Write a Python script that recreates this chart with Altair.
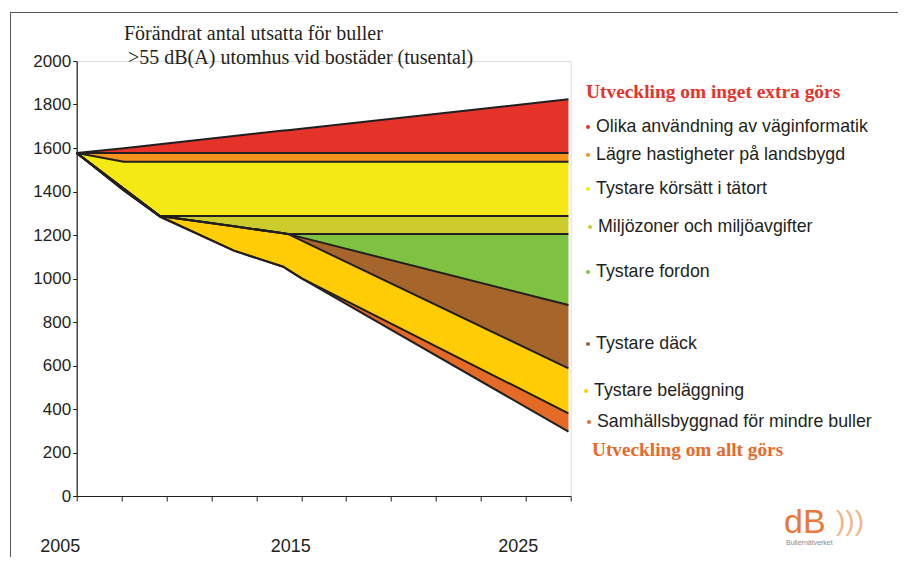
import altair as alt
import pandas as pd

# ---------------- data ----------------
years = [2005.0, 2007.1, 2008.7, 2012.0, 2014.2, 2014.4, 2015.0, 2026.9]

# boundaries between bands (thousands of people), top to bottom
top_none   = [1577, 1599, 1617, 1655, 1680, 1682, 1689, 1824]
b_vaginfo  = [1577, 1577, 1577, 1577, 1577, 1577, 1577, 1577]
b_hast     = [1577, 1537, 1537, 1537, 1537, 1537, 1537, 1537]
b_korsatt  = [1577, 1412, 1287, 1287, 1287, 1287, 1287, 1287]
b_miljo    = [1577, 1412, 1287, 1240, 1208, 1205, 1205, 1205]
b_fordon   = [1577, 1412, 1287, 1240, 1208, 1205, 1189, 878]
b_dack     = [1577, 1412, 1287, 1240, 1208, 1205, 1175, 587]
b_belagg   = [1577, 1405, 1285, 1128, 1054, 1041, 1002, 380]
bottom_all = [1577, 1405, 1285, 1128, 1054, 1041, 1002, 296]

categories = [
    "Olika användning av väginformatik",
    "Lägre hastigheter på landsbygd",
    "Tystare körsätt i tätort",
    "Miljözoner och miljöavgifter",
    "Tystare fordon",
    "Tystare däck",
    "Tystare beläggning",
    "Samhällsbyggnad för mindre buller",
]
colors = ["#E63329", "#F7941D", "#F4E914", "#CCCC2C",
          "#7FC241", "#A6652B", "#FFCC05", "#E56A27"]

boundaries = [top_none, b_vaginfo, b_hast, b_korsatt, b_miljo,
              b_fordon, b_dack, b_belagg, bottom_all]

title_lines = ["Förändrat antal utsatta för buller",
               ">55 dB(A) utomhus vid bostäder (tusental)"]
top_label = "Utveckling om inget extra görs"
bottom_label = "Utveckling om allt görs"
y_ticks = list(range(0, 2001, 200))
x_ticks = list(range(2005, 2028))

# ---------------- tables ----------------
band_rows = []
for i, name in enumerate(categories):
    up, lo = boundaries[i], boundaries[i + 1]
    for yr, u, l in zip(years, up, lo):
        band_rows.append({"band": name, "year": yr, "upper": u, "lower": l})
df_bands = pd.DataFrame(band_rows)

line_rows = []
for j, b in enumerate(boundaries):
    for yr, v in zip(years, b):
        line_rows.append({"line": f"b{j}", "year": yr, "value": v})
df_lines = pd.DataFrame(line_rows)

one = pd.DataFrame({"k": [0]})

# ---------------- layout helpers (pixel positions) ----------------
X0, Y0 = 76.7, 61.0  # plot-area origin on the page
def px(x):
    return x - X0
def py(y):
    return y - Y0

INK = "#231F20"
SANS = "Liberation Sans"
SERIF = "Liberation Serif"

xscale = alt.Scale(domain=[2005, 2027], nice=False, zero=False)
yscale = alt.Scale(domain=[0, 2000], nice=False)

label_offset = {
    "condition": [
        {"test": "datum.value == 2005", "value": -17},
        {"test": "datum.value == 2025", "value": -8},
    ],
    "value": -11,
}

areas = alt.Chart(df_bands).mark_area(opacity=1, interpolate="linear").encode(
    x=alt.X("year:Q", scale=xscale,
            axis=alt.Axis(values=x_ticks, title=None, grid=False,
                          labelExpr="(datum.value - 2005) % 10 == 0 ? datum.label : ''",
                          format="d", labelOverlap=False, labelFlush=False,
                          labelFont=SANS, labelFontSize=18, labelColor=INK,
                          labelPadding=36, labelOffset=label_offset,
                          tickSize=5, tickColor=INK, domainColor=INK,
                          tickWidth=1, domainWidth=1.2)),
    y=alt.Y("upper:Q", scale=yscale,
            axis=alt.Axis(values=y_ticks, title=None, grid=False, format="d",
                          labelFont=SANS, labelFontSize=17, labelColor=INK,
                          labelPadding=2, tickSize=4, tickColor=INK,
                          domainColor=INK, tickWidth=1, domainWidth=1.2)),
    y2="lower:Q",
    color=alt.Color("band:N", scale=alt.Scale(domain=categories, range=colors),
                    legend=None),
)

lines = alt.Chart(df_lines).mark_line(color=INK, strokeWidth=2,
                                      strokeJoin="round").encode(
    x=alt.X("year:Q", scale=xscale),
    y=alt.Y("value:Q", scale=yscale),
    detail="line:N",
)

layers = [areas, lines]

# chart title lines
layers.append(alt.Chart(one).mark_text(align="left", baseline="middle", font=SERIF,
                                       fontSize=20, color=INK).encode(
    x=alt.value(px(124)), y=alt.value(py(34)), text=alt.value(title_lines[0])))
layers.append(alt.Chart(one).mark_text(align="left", baseline="middle", font=SERIF,
                                       fontSize=20, color=INK).encode(
    x=alt.value(px(128)), y=alt.value(py(58)), text=alt.value(title_lines[1])))

# legend headings
layers.append(alt.Chart(one).mark_text(align="left", baseline="middle", font=SERIF,
                                       fontSize=19.4, fontWeight="bold",
                                       color="#E63329").encode(
    x=alt.value(px(586)), y=alt.value(py(92)), text=alt.value(top_label)))
layers.append(alt.Chart(one).mark_text(align="left", baseline="middle", font=SERIF,
                                       fontSize=19.3, fontWeight="bold",
                                       color="#E8692A").encode(
    x=alt.value(px(592)), y=alt.value(py(450)), text=alt.value(bottom_label)))

# legend items
leg_y = [127, 155, 189, 227, 272, 344, 391, 422]
leg_x = [596, 596, 596, 598, 596, 596, 594, 597]
for name, col, ly, lx in zip(categories, colors, leg_y, leg_x):
    layers.append(alt.Chart(one).mark_text(align="left", baseline="middle", font=SANS,
                                           fontSize=17.8, color=INK).encode(
        x=alt.value(px(lx)), y=alt.value(py(ly)), text=alt.value(name)))
    layers.append(alt.Chart(one).mark_circle(size=16, opacity=1, color=col).encode(
        x=alt.value(px(lx - 8)), y=alt.value(py(ly))))

# frame lines
layers.append(alt.Chart(one).mark_rule(color="#555555", strokeWidth=1).encode(
    x=alt.value(px(10.5)), y=alt.value(py(12)), y2=alt.value(py(561))))
layers.append(alt.Chart(one).mark_rule(color="#555555", strokeWidth=1).encode(
    x=alt.value(px(10.5)), x2=alt.value(px(906)), y=alt.value(py(12.5))))

# logo
layers.append(alt.Chart(one).mark_text(align="left", baseline="middle", font=SANS,
                                       fontSize=34, color="#E8793A").encode(
    x=alt.value(px(784)), y=alt.value(py(523)), text=alt.value("dB")))
layers.append(alt.Chart(one).mark_text(align="left", baseline="middle", font=SANS,
                                       fontSize=28, color="#F2B48C").encode(
    x=alt.value(px(836)), y=alt.value(py(522)), text=alt.value(")))")))
layers.append(alt.Chart(one).mark_text(align="left", baseline="middle", font=SANS,
                                       fontSize=7, color="#8A8A8A").encode(
    x=alt.value(px(786)), y=alt.value(py(543)), text=alt.value("Bullernätverket")))

chart = alt.layer(*layers).properties(
    width=494, height=435,
    autosize=alt.AutoSizeParams(type="none"),
    padding={"left": X0 - 8, "top": Y0 - 8, "right": 898 - (X0 + 494), "bottom": 557 - 496},
).configure_view(stroke=None).configure(background="white")

chart.save("out.html", embed_options={"renderer": "svg", "actions": False})
